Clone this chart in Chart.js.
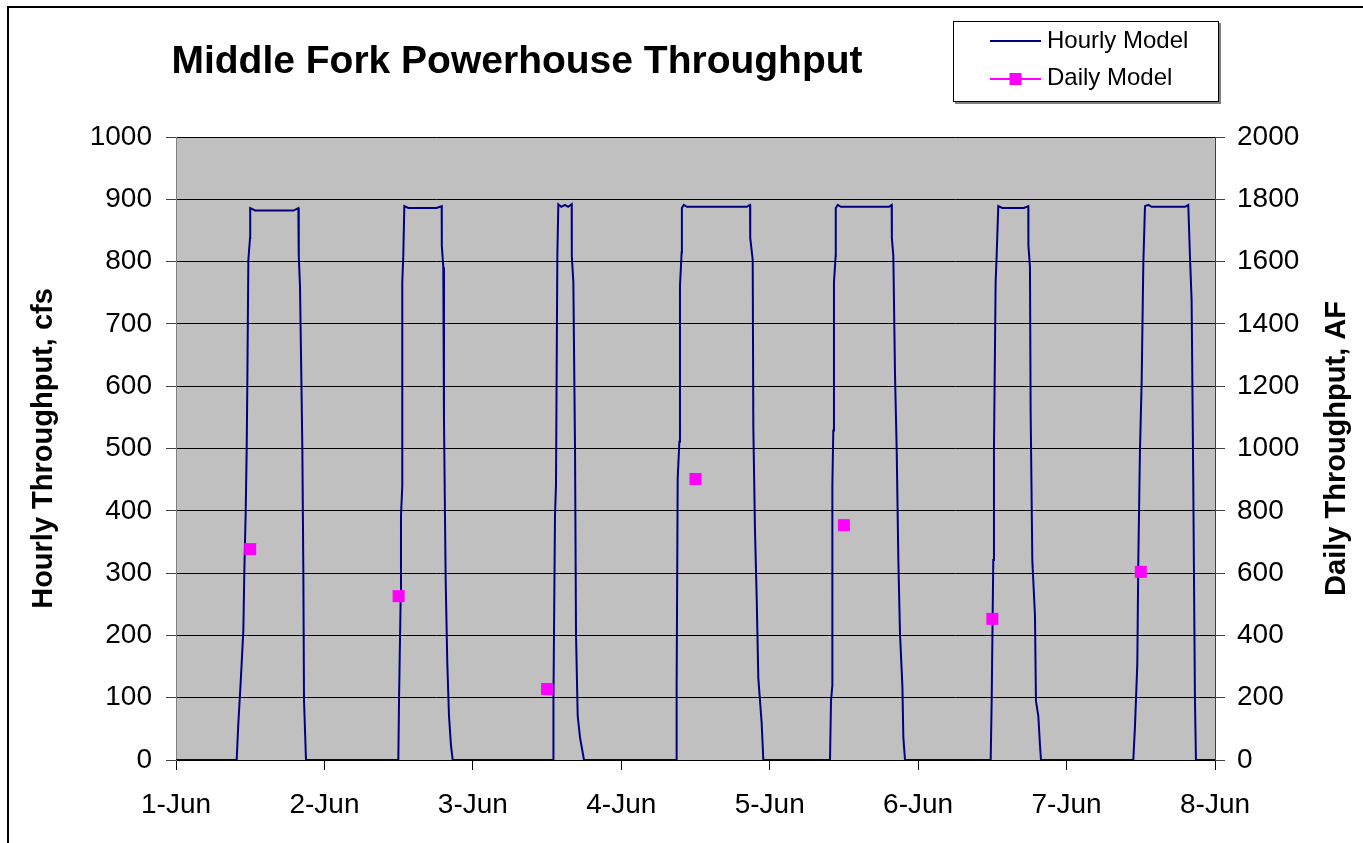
<!DOCTYPE html>
<html>
<head>
<meta charset="utf-8">
<script src="https://cdn.jsdelivr.net/npm/chart.js@4.4.1/dist/chart.umd.min.js"></script>
<style>
html,body{margin:0;padding:0;background:#fff;}
#wrap{width:1363px;height:843px;position:relative;}
</style>
</head>
<body>
<div id="wrap"><canvas id="c"></canvas></div>
<script>
// ---- data ----
const chartTitle = "Middle Fork Powerhouse Throughput";
const xTickLabels = ["1-Jun","2-Jun","3-Jun","4-Jun","5-Jun","6-Jun","7-Jun","8-Jun"];
const leftAxisTitle = "Hourly Throughput, cfs";
const rightAxisTitle = "Daily Throughput, AF";
const seriesNames = ["Hourly Model","Daily Model"];

// hours since 1-Jun 00:00
const hourlyHours = [
  0,
  9.81,10.08,10.46,10.89,11.05,11.27,11.43,11.53,11.70,11.97,12.0,12.8,19.0,19.78,19.85,20.05,20.32,20.43,20.59,20.70,21.02,
  35.95,36.06,36.33,36.38,36.59,36.59,36.75,36.92,37.56,42.15,42.96,42.98,43.22,43.33,43.60,43.87,44.14,44.46,44.74,
  61.01,61.03,61.28,61.44,61.66,61.82,62.3,62.9,63.4,63.98,64.0,64.25,64.52,64.68,64.95,65.33,65.97,
  80.85,80.95,81.12,81.39,81.49,81.76,81.8,82.1,82.6,92.28,92.82,92.85,93.25,93.35,93.62,93.89,94.16,94.7,94.97,
  105.75,105.91,106.12,106.13,106.28,106.39,106.66,106.68,107.0,107.5,115.3,115.72,115.75,115.99,116.26,116.53,116.8,117.07,117.45,117.61,117.88,
  131.73,131.89,132.15,132.26,132.53,132.69,132.96,133.6,137.1,137.81,137.83,138.08,138.19,138.46,138.89,139.05,139.43,139.7,139.86,
  154.79,155.06,155.44,155.6,155.87,156.14,156.41,156.68,157.22,157.76,163.15,163.68,163.95,164.22,164.48,164.76,164.92,
  168
];
const hourlyCfs = [
  0,
  0,59,125,208,303,398,499,600,803,838,886,882,882,886,809,761,577,499,303,95,0,
  0,95,262,392,440,767,809,889,886,886,889,826,791,547,291,155,71,24,0,
  0,95,392,440,809,892,888,891,888,892,809,767,499,202,71,36,0,
  0,119,452,511,761,815,886,891,888,888,891,838,803,535,369,262,131,59,0,
  0,95,119,440,529,767,809,886,891,888,888,891,838,809,618,499,321,202,119,36,0,
  0,95,321,499,767,809,889,886,886,889,826,791,559,321,232,95,71,24,0,
  0,54,155,321,499,606,797,889,891,888,888,891,809,737,452,95,0,
  0
];

const dailyHours = [12,36,60,84,108,132,156];
const dailyAF = [677,526,228,902,754,453,604];

const leftTicks = {min:0,max:1000,step:100};
const rightTicks = {min:0,max:2000,step:200};

// ---- build ----
const hourlyData = hourlyHours.map((h,i)=>({x:h,y:hourlyCfs[i]}));
const dailyData = dailyHours.map((h,i)=>({x:h,y:dailyAF[i]}));

const FONT = "'Liberation Sans', Arial, sans-serif";

const decor = {
  id:'decor',
  beforeDraw(chart){
    const ctx = chart.ctx, a = chart.chartArea;
    ctx.save();
    ctx.fillStyle = '#ffffff';
    ctx.fillRect(0,0,chart.width,chart.height);
    ctx.fillStyle = '#c0c0c0';
    ctx.fillRect(a.left,a.top,a.right-a.left,a.bottom-a.top);
    // outer frame
    ctx.strokeStyle = '#000';
    ctx.lineWidth = 2;
    ctx.beginPath();
    ctx.moveTo(8, chart.height+5);
    ctx.lineTo(8, 7);
    ctx.lineTo(chart.width+5, 7);
    ctx.stroke();
    ctx.restore();
  },
  afterDraw(chart){
    const ctx = chart.ctx, a = chart.chartArea;
    ctx.save();
    // title
    ctx.fillStyle = '#000';
    ctx.font = "bold 39px " + FONT;
    ctx.textAlign = 'center';
    ctx.textBaseline = 'middle';
    ctx.fillText(chartTitle, 517, 62);
    // axis titles
    ctx.font = "bold 29px " + FONT;
    const cy = (a.top + a.bottom)/2;
    ctx.save();
    ctx.translate(44, cy);
    ctx.rotate(-Math.PI/2);
    ctx.fillText(leftAxisTitle, 0, 0);
    ctx.restore();
    ctx.save();
    ctx.translate(1337, cy);
    ctx.rotate(-Math.PI/2);
    ctx.fillText(rightAxisTitle, 0, 0);
    ctx.restore();
    // legend box
    ctx.fillStyle = '#808080';
    ctx.fillRect(955, 23, 266, 81);
    ctx.fillStyle = '#fff';
    ctx.fillRect(953, 21, 266, 81);
    ctx.strokeStyle = '#000';
    ctx.lineWidth = 1;
    ctx.strokeRect(953.5, 21.5, 265, 80);
    // entries
    ctx.lineWidth = 2;
    ctx.strokeStyle = '#000080';
    ctx.beginPath(); ctx.moveTo(990, 41); ctx.lineTo(1041, 41); ctx.stroke();
    ctx.strokeStyle = '#ff00ff';
    ctx.beginPath(); ctx.moveTo(990, 79); ctx.lineTo(1041, 79); ctx.stroke();
    ctx.fillStyle = '#ff00ff';
    ctx.fillRect(1009.5, 73, 12, 12);
    ctx.fillStyle = '#000';
    ctx.font = "24px " + FONT;
    ctx.textAlign = 'left';
    ctx.textBaseline = 'middle';
    ctx.fillText(seriesNames[0], 1047, 41);
    ctx.fillText(seriesNames[1], 1047, 78);
    ctx.restore();
  }
};

new Chart(document.getElementById('c'), {
  type:'line',
  data:{
    datasets:[
      {
        label:seriesNames[1],
        data:dailyData,
        yAxisID:'y1',
        showLine:false,
        pointStyle:'rect',
        pointRadius:8.5,
        pointBackgroundColor:'#ff00ff',
        pointBorderColor:'#ff00ff',
        pointBorderWidth:0,
        order:0
      },
      {
        label:seriesNames[0],
        data:hourlyData,
        yAxisID:'y',
        borderColor:'#000080',
        borderWidth:2,
        pointRadius:0,
        tension:0,
        fill:false,
        order:1
      }
    ]
  },
  plugins:[decor],
  options:{
    responsive:true,
    maintainAspectRatio:false,
    animation:false,
    layout:{padding:{top:137,left:0,right:0,bottom:0}},
    plugins:{legend:{display:false},title:{display:false},tooltip:{enabled:false}},
    scales:{
      x:{
        type:'linear',
        min:0,max:168,
        afterFit(s){ s.height = 83; },
        afterBuildTicks(s){ s.ticks = xTickLabels.map((l,i)=>({value:i*24})); },
        ticks:{
          stepSize:24,
          autoSkip:false,
          maxRotation:0,
          color:'#000',
          padding:18,
          font:{family:FONT,size:28},
          callback:(v)=>xTickLabels[Math.round(v/24)]
        },
        grid:{drawOnChartArea:false,tickLength:10,tickColor:'#000',color:'#000'},
        border:{color:'#000',width:1}
      },
      y:{
        position:'left',
        min:leftTicks.min,max:leftTicks.max,
        afterFit(s){ s.width = 176; },
        ticks:{stepSize:leftTicks.step,color:'#000',padding:14,font:{family:FONT,size:28},callback:(v)=>String(v)},
        grid:{color:'#000',lineWidth:1,tickLength:10,tickColor:'#404040'},
        border:{color:'#808080',width:1}
      },
      y1:{
        position:'right',
        min:rightTicks.min,max:rightTicks.max,
        afterFit(s){ s.width = 148; },
        ticks:{stepSize:rightTicks.step,color:'#000',padding:12,font:{family:FONT,size:28},callback:(v)=>String(v)},
        grid:{drawOnChartArea:false,tickLength:10,tickColor:'#404040'},
        border:{color:'#404040',width:1}
      }
    }
  }
});
</script>
</body>
</html>
